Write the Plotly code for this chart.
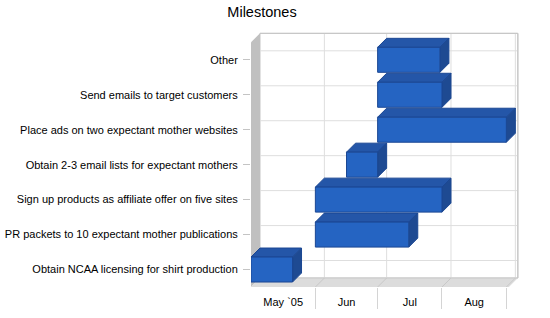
import plotly.graph_objects as go
import pandas as pd

# ---------------- data ----------------
tasks = [
    "Obtain NCAA licensing for shirt production",
    "PR packets to 10 expectant mother publications",
    "Sign up products as affiliate offer on five sites",
    "Obtain 2-3 email lists for expectant mothers",
    "Place ads on two expectant mother websites",
    "Send emails to target customers",
    "Other",
]
start_dates = ["2005-05-01", "2005-06-01", "2005-06-01", "2005-06-16",
               "2005-07-01", "2005-07-01", "2005-07-01"]
end_dates = ["2005-05-20", "2005-07-15", "2005-07-31", "2005-06-30",
             "2005-08-31", "2005-07-31", "2005-07-30"]
month_labels = ["May `05", "Jun", "Jul", "Aug"]
month_starts = ["2005-05-01", "2005-06-01", "2005-07-01", "2005-08-01", "2005-09-01"]

# ---------------- geometry ----------------
W, H = 550, 318
L, R, T, B = 251, 30, 30, 31
PW, PH = W - L - R, H - T - B
K = 2.076        # px per day
ROW = 34.95      # px per row
DEPTH = 9.0      # px of 3D depth
origin = pd.Timestamp(month_starts[0])


def day(d):
    return (pd.Timestamp(d) - origin).days


mb = [day(m) for m in month_starts]           # month boundaries (days)
mid = [(mb[i] + mb[i + 1]) / 2 for i in range(len(month_labels))]
x_end = mb[-1]
dx = DEPTH / K
dy = DEPTH / ROW
y0, y1 = -0.5, len(tasks) - 0.5
ext = 2.5 / K
h = 12.5 / ROW

FRONT = "#2564c2"
TOP = "#2456a8"
SIDE = "#1e4a92"
EDGE = "#1b4793"

fig = go.Figure()


def poly(xs, ys, fill, line=None, width=1):
    fig.add_trace(go.Scatter(
        x=xs + [xs[0]], y=ys + [ys[0]], mode="lines", fill="toself",
        fillcolor=fill, line=dict(color=line or fill, width=width if line else 0),
        hoverinfo="skip", showlegend=False))


def seg(xs, ys, color, width=1):
    fig.add_trace(go.Scatter(x=xs, y=ys, mode="lines",
                             line=dict(color=color, width=width),
                             hoverinfo="skip", showlegend=False))


# back wall
bx1 = x_end + dx + ext
poly([dx, bx1, bx1, dx], [y0 + dy, y0 + dy, y1 + dy, y1 + dy], "white", "#c6c6c6")
# grid on back wall
for m in mb[1:]:
    seg([m + dx, m + dx], [y0 + dy, y1 + dy], "#dedede")
for i in range(len(tasks)):
    seg([dx, bx1], [i + dy, i + dy], "#dedede")
seg([dx, bx1, bx1], [y1 + dy, y1 + dy, y0 + dy], "#c6c6c6")

# left wall
poly([0, dx, dx, 0], [y0, y0 + dy, y1 + dy, y1], "#c0c0c0")
# floor
fx = x_end + ext
poly([0, fx, fx + dx, dx], [y0, y0, y0 + dy, y0 + dy], "#dcdcdc")
seg([dx, fx + dx], [y0 + dy, y0 + dy], "#c8c8c8")
for m in mb[1:]:
    seg([m, m + dx], [y0, y0 + dy], "#c8c8c8")

# bars
for i, (s, e) in enumerate(zip(start_dates, end_dates)):
    xs, xe = day(s), day(e) + 1
    poly([xs, xe, xe + dx, xs + dx], [i + h, i + h, i + h + dy, i + h + dy], TOP, EDGE)
    poly([xe, xe + dx, xe + dx, xe], [i - h, i - h + dy, i + h + dy, i + h], SIDE, EDGE)
    poly([xs, xe, xe, xs], [i - h, i - h, i + h, i + h], FRONT, EDGE)

FONT = "Liberation Sans, Arial, sans-serif"
fig.update_layout(
    width=W, height=H,
    margin=dict(l=L, r=R, t=T, b=B, pad=0, autoexpand=False),
    paper_bgcolor="white", plot_bgcolor="white",
    showlegend=False,
    font=dict(family=FONT, size=11, color="black"),
    title=dict(text="Milestones", x=262 / W, xanchor="center",
               y=1 - 11.5 / H, yanchor="middle", yref="container",
               font=dict(family=FONT, size=14.5, color="black"),
               automargin=False),
    xaxis=dict(range=[0, PW / K], showgrid=False, zeroline=False, showline=False,
               tickmode="array", tickvals=mid, ticktext=month_labels,
               ticks="", ticklabelstandoff=7, automargin=False,
               minor=dict(tickmode="array", tickvals=mb[1:], ticks="outside",
                          ticklen=21, tickcolor="#d4d4d4", tickwidth=1, showgrid=False),
               fixedrange=True),
    yaxis=dict(range=[y0, y0 + PH / ROW], showgrid=False, zeroline=False, showline=False,
               tickmode="array", tickvals=list(range(len(tasks))), ticktext=tasks,
               ticks="outside", ticklen=7, tickcolor="#c4c4c4", tickwidth=1,
               ticklabelstandoff=3, automargin=False, fixedrange=True),
)

fig.write_html("out.html")
